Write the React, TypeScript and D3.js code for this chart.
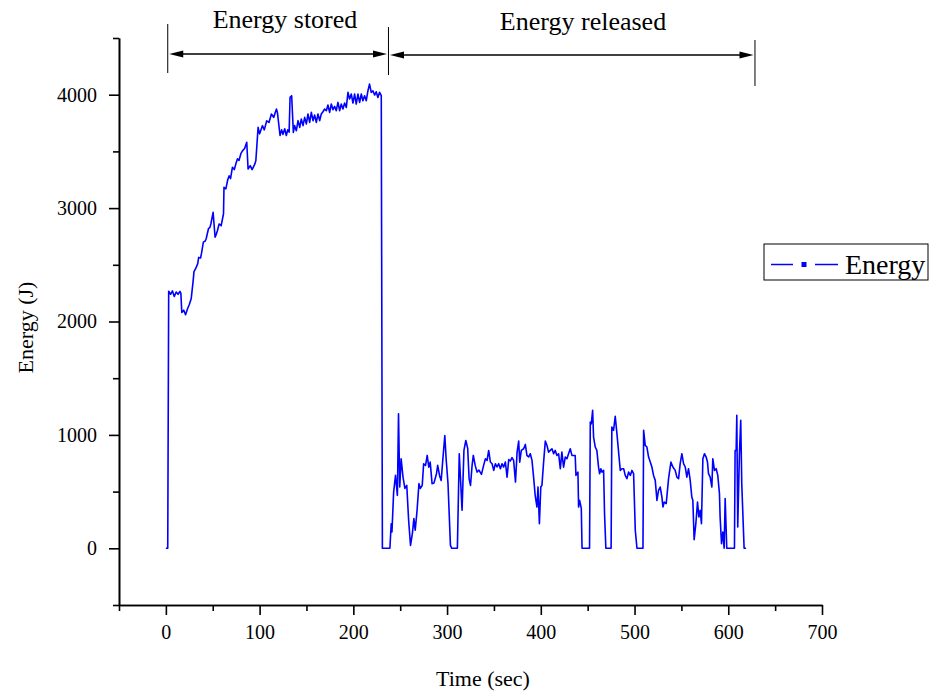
import React, { useEffect, useRef } from 'react';
import * as d3 from 'd3';

// ---- Data ----
const timeSec: number[] = [
  0, 2, 3, 5, 7, 9, 11, 13, 15, 16, 17, 19, 21, 23, 25, 27, 29, 30, 32, 34, 35, 37, 38, 40, 42, 43, 45.5, 47, 48, 50.4,
  52.5, 54, 55, 56.8, 59, 61.5, 62, 64, 66, 67.5, 69, 71, 73, 75, 76.4, 78, 80, 81.7, 84, 86.3, 87.7, 90, 92, 95, 96,
  98.4, 100, 103, 105, 107.6, 110, 112.6, 115, 118, 119, 121.8, 123.5, 125, 126.8, 128.5, 130, 131.5, 132.5, 134.2, 136,
  137.4, 139.2, 141, 142.8, 144.5, 146.3, 148.1, 149.9, 151.6, 153.4, 155.2, 157, 158.7, 160.5, 162.3, 164.1, 165.8,
  167.6, 169.4, 171.2, 172.9, 174.7, 176.5, 178.3, 180, 181.8, 183.6, 185.4, 187.1, 188.9, 190.7, 192.5, 194.3, 196,
  197.8, 199.6, 201.4, 203.1, 204.9, 206.7, 208.5, 210.2, 212, 213.8, 215.6, 217.3, 219.1, 220.9, 222.7, 224.4, 226.2,
  228, 229.8, 231,
  239, 240.4, 241.2, 243, 245, 247, 248.2, 249.5, 251, 253, 255, 257, 259, 261, 263, 264.6, 266, 268, 270, 271.5, 273.5,
  275, 277, 278.8, 280.5, 282, 284, 286, 288.7, 290, 292, 293.7, 295.4, 297.6, 299, 301, 303.6, 305, 311, 313, 316, 318,
  320, 322, 323.5, 325, 326.7, 328, 330, 332, 334, 336.7, 339, 340.9, 342.7, 344.4, 346.2, 348, 349.8, 351.5, 353.3,
  355.1, 356.9, 358.6, 360.4, 362.2, 364, 365.8, 367.5, 369.3, 371, 373, 374.7, 376.4, 377.5, 379.2, 381.7, 383.5,
  385.2, 387, 388.8, 390.6, 392.3, 394, 395.9, 397, 398.5, 400, 401.2, 403, 404.8, 406.6, 408.3, 410.1, 411.9, 413.7,
  415.4, 417.2, 419, 420.8, 422.5, 424.3, 426.1, 427.9, 429.6, 431.4, 433.2, 436.7, 437.5, 439.6, 440.3, 441.4, 443.2,
  444, 452, 452.8, 453.9, 455.3, 456.3, 458.1, 459.8, 461.6, 462.7, 464.1, 465.2, 467, 468, 469.4, 475, 475.8, 477.6,
  479.4, 481.2, 483, 484.8, 486.5, 488.4, 490.1, 491.9, 493.7, 495.5, 497.2, 499, 500.8, 502.6, 509, 509.7, 511.4,
  513.2, 515, 516.8, 518.5, 520.3, 522.1, 523.9, 525.6, 527.4, 529.2, 530.3, 531.7, 533.8, 536.3, 538.8, 540.9, 543.4,
  545.2, 547, 548.7, 550.5, 552.3, 554.1, 555.8, 557.6, 559.4, 561.1, 562.2, 563.6, 565.4, 567.2, 568.6, 570, 571.4,
  572.9, 574.6, 576.4, 577.8, 578.9, 580.7, 582.5, 583.5, 585.3, 587.1, 588.8, 590.6, 591.3, 592.8, 594.2, 595.6,
  596.7, 598.4, 606.6, 607.3, 608.4, 609.1, 610.1, 611.9, 613.3, 614.4, 616.9, 619,
];

const energyJ: number[] = [
  0, 0, 2267, 2240, 2270, 2220, 2260, 2240, 2265, 2250, 2080, 2100, 2060, 2110, 2150, 2200, 2350, 2440, 2470, 2510,
  2565, 2560, 2600, 2700, 2710, 2730, 2820, 2830, 2860, 2963, 2743, 2775, 2800, 2860, 2845, 2950, 3183, 3170, 3250,
  3285, 3260, 3360, 3340, 3400, 3435, 3420, 3480, 3505, 3525, 3580, 3345, 3375, 3340, 3390, 3420, 3712, 3655, 3727,
  3690, 3770, 3755, 3830, 3800, 3873, 3844, 3640, 3690, 3650, 3700, 3640, 3690, 3670, 3976, 3991, 3668,
  3727, 3683, 3771, 3712, 3786, 3727, 3800, 3742, 3830, 3756, 3844, 3771, 3821, 3756, 3830, 3771, 3830,
  3850, 3874, 3859, 3909, 3844, 3918, 3868, 3897, 3859, 3932, 3859, 3918, 3874, 3927, 3888, 4021, 3962,
  4006, 3927, 4006, 3918, 4006, 3932, 4006, 3947, 3991, 3947, 4035, 4094, 4021, 4035, 3997, 4026, 3976,
  4021, 3991, 0,
  0, 217, 144, 496, 643, 467, 1187, 540, 790, 628, 528, 555, 247, 26, 132, 262, 159, 335, 570, 528, 555,
  746, 730, 819, 716, 760, 570, 575, 658, 731, 640, 599, 775, 995, 790, 570, 26, 0, 0, 834, 335, 863,
  951, 881, 614, 555, 731, 819, 731, 672, 690, 652, 731, 790, 775, 863, 761, 746, 687, 746, 717,
  746, 702, 746, 716, 761, 628, 783, 770, 799, 775, 584, 848, 946, 760, 863, 878, 916,
  819, 805, 834, 775, 628, 467, 364, 540, 217, 540, 555, 760, 945, 907, 848, 863, 878, 834,
  863, 819, 834, 702, 848, 716, 805, 790, 834, 878, 819, 819, 643, 672, 364, 423, 352,
  0, 0, 1113, 1098, 1216, 981, 893, 863, 716, 658, 702, 672, 687, 306, 0, 0, 1069, 1040,
  1163, 1013, 848, 687, 702, 702, 643, 614, 673, 643, 687, 658, 159, 0, 0, 1040, 907,
  893, 805, 761, 717, 643, 599, 423, 511, 540, 452, 364, 408, 394, 614, 761, 717, 687,
  628, 614, 746, 834, 746, 717, 628, 702, 599, 452, 423, 76, 217, 408, 276, 335, 217,
  790, 834, 805, 761, 658, 628, 540, 790, 687, 702, 643, 482, 276, 41, 144, 0,
  438, 0, 0, 863, 863, 1172, 188, 834, 1128, 570, 0, 0,
];

const xMajorTicks = [0, 100, 200, 300, 400, 500, 600, 700];
const xMinorTicks = [-50, 50, 150, 250, 350, 450, 550, 650];
const yMajorTicks = [0, 1000, 2000, 3000, 4000];
const yMinorTicks = [-500, 500, 1500, 2500, 3500, 4500];
const phaseBounds = [2, 237.5, 628.5];
const phaseLabels = ['Energy stored', 'Energy released'];
const seriesName = 'Energy';
const xTitle = 'Time (sec)';
const yTitle = 'Energy (J)';

const W = 936;
const H = 698;
const X0 = 119;
const X1 = 822;
const Y0 = 605;
const Y1 = 38;
const FONT = '"Liberation Serif", "Times New Roman", serif';
const BLUE = '#0000ff';

export default function App() {
  const xAxisRef = useRef<SVGGElement>(null);
  const yAxisRef = useRef<SVGGElement>(null);

  const x = d3.scaleLinear().domain([-50, 700]).range([X0, X1]);
  const y = d3.scaleLinear().domain([-500, 4500]).range([Y0, Y1]);

  const pts: [number, number][] = timeSec.map((t, i) => [t, energyJ[i]]);
  const line = d3
    .line<[number, number]>()
    .x((d) => x(d[0]))
    .y((d) => y(d[1]));

  useEffect(() => {
    const gx = d3.select(xAxisRef.current!);
    gx.selectAll('*').remove();
    gx.call(
      d3
        .axisBottom(x)
        .tickValues(xMajorTicks)
        .tickSize(10)
        .tickSizeOuter(0)
        .tickPadding(10)
        .tickFormat(d3.format('d') as any)
    );
    gx.append('g').call(
      d3.axisBottom(x).tickValues(xMinorTicks).tickSize(6).tickSizeOuter(0).tickFormat(() => '')
    );
    gx.selectAll('path,line').attr('stroke', '#000').attr('stroke-width', 1.6);
    gx.selectAll('text').attr('font-size', 20).attr('font-family', FONT).attr('fill', '#000');
    gx.attr('font-family', FONT);

    const gy = d3.select(yAxisRef.current!);
    gy.selectAll('*').remove();
    gy.call(
      d3
        .axisLeft(y)
        .tickValues(yMajorTicks)
        .tickSize(10)
        .tickSizeOuter(0)
        .tickPadding(12)
        .tickFormat(d3.format('d') as any)
    );
    gy.append('g').call(
      d3.axisLeft(y).tickValues(yMinorTicks).tickSize(6).tickSizeOuter(0).tickFormat(() => '')
    );
    gy.selectAll('path,line').attr('stroke', '#000').attr('stroke-width', 1.6);
    gy.selectAll('text').attr('font-size', 20).attr('font-family', FONT).attr('fill', '#000');
    gy.attr('font-family', FONT);
  }, []);

  const bx = phaseBounds.map((b) => x(b));
  const arrowY = [54, 55];
  const vTop = [24, 27, 40];
  const vBot = [73, 75, 86];
  const labelX = [285, 583];
  const labelY = [28, 30];
  const AL = 14;
  const AH = 3.5;

  const arrowHead = (tipX: number, yy: number, dir: number) =>
    `M${tipX},${yy}L${tipX - dir * AL},${yy - AH}L${tipX - dir * AL},${yy + AH}Z`;

  return (
    <svg
      width={W}
      height={H}
      style={{ position: 'absolute', left: 0, top: 0, background: '#fff' }}
      fontFamily={FONT}
    >
      <rect x={0} y={0} width={W} height={H} fill="#fff" />
      <path d={line(pts) || ''} fill="none" stroke={BLUE} strokeWidth={1.6} strokeLinejoin="round" />

      <g ref={xAxisRef} transform={`translate(0,${Y0})`} />
      <g ref={yAxisRef} transform={`translate(${X0},0)`} />

      {/* phase annotations */}
      {bx.map((px, i) => (
        <line key={'v' + i} x1={px} x2={px} y1={vTop[i]} y2={vBot[i]} stroke="#000" strokeWidth={1} />
      ))}
      {phaseLabels.map((lab, i) => {
        const a = bx[i] + 1.5;
        const b = bx[i + 1] - 1.5;
        const yy = arrowY[i];
        return (
          <g key={'a' + i}>
            <line x1={a + AL - 1} x2={b - AL + 1} y1={yy} y2={yy} stroke="#000" strokeWidth={1.3} />
            <path d={arrowHead(a, yy, -1)} fill="#000" />
            <path d={arrowHead(b, yy, 1)} fill="#000" />
            <text x={labelX[i]} y={labelY[i]} textAnchor="middle" fontSize={26} fill="#000">
              {lab}
            </text>
          </g>
        );
      })}

      {/* axis titles */}
      <text x={483} y={686} textAnchor="middle" fontSize={22} fill="#000">
        {xTitle}
      </text>
      <text
        transform={`translate(33,${(Y0 + Y1) / 2 + 6}) rotate(-90)`}
        textAnchor="middle"
        fontSize={22}
        fill="#000"
      >
        {yTitle}
      </text>

      {/* legend */}
      <g>
        <rect x={764} y={244} width={164} height={36} fill="#fff" stroke="#000" strokeWidth={1} />
        <line x1={771} x2={793} y1={264.5} y2={264.5} stroke={BLUE} strokeWidth={1.5} />
        <rect x={801.5} y={262} width={5} height={5} fill={BLUE} />
        <line x1={815} x2={838} y1={264.5} y2={264.5} stroke={BLUE} strokeWidth={1.5} />
        <text x={845} y={274} fontSize={28} fill="#000">
          {seriesName}
        </text>
      </g>
    </svg>
  );
}
